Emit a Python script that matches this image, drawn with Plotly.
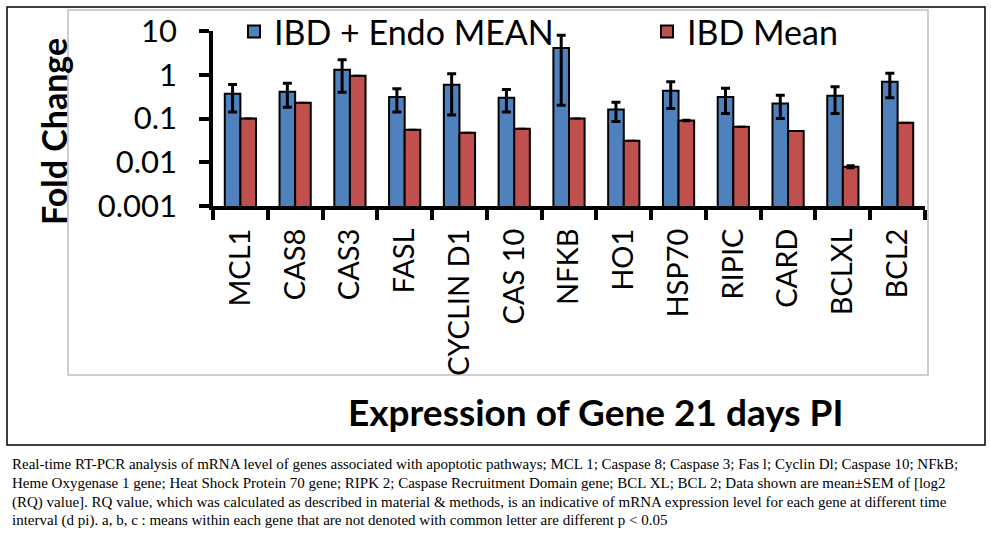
import plotly.graph_objects as go

# ---------------- data ----------------
genes = ["MCL1", "CAS8", "CAS3", "FASL", "CYCLIN D1", "CAS 10", "NFKB",
         "HO1", "HSP70", "RIPIC", "CARD", "BCLXL", "BCL2"]
endo_name = "IBD + Endo MEAN"
ibd_name = "IBD Mean"
endo_mean = [0.37, 0.41, 1.3, 0.31, 0.59, 0.30, 4.1, 0.16, 0.43, 0.31, 0.22, 0.33, 0.69]
endo_sem = [0.23, 0.23, 0.9, 0.17, 0.47, 0.16, 3.9, 0.075, 0.26, 0.18, 0.12, 0.2, 0.39]
ibd_mean = [0.10, 0.23, 0.95, 0.055, 0.047, 0.058, 0.10, 0.031, 0.09, 0.065, 0.052, 0.0079, 0.08]
ibd_sem = [None, None, None, None, None, None, None, None, 0.004, None, None, 0.0006, None]
y_tickvals = [0.001, 0.01, 0.1, 1, 10]
y_ticktext = ["0.001", "0.01", "0.1", "1", "10"]
y_title = "Fold Change"
x_title = "Expression of Gene 21 days PI"
caption_lines = [
    "Real-time RT-PCR analysis of mRNA level of genes associated with apoptotic pathways; MCL 1; Caspase 8; Caspase 3; Fas l; Cyclin Dl; Caspase 10; NFkB;",
    "Heme Oxygenase 1 gene; Heat Shock Protein 70 gene; RIPK 2; Caspase Recruitment Domain gene; BCL XL; BCL 2; Data shown are mean±SEM of [log2",
    "(RQ) value]. RQ value, which was calculated as described in material &amp; methods, is an indicative of mRNA expression level for each gene at different time",
    "interval (d pi). a, b, c : means within each gene that are not denoted with common letter are different p &lt; 0.05",
]

# ---------------- layout geometry (pixels) ----------------
W, H = 991, 542
PL, PR, PT, PB = 213, 925, 31, 206  # plot area in page pixels


def px(x):
    return (x - PL) / (PR - PL)


def py(y):
    return (PB - y) / (PB - PT)


FONT = "Lato"
BLUE = "#4F81BD"
RED = "#C0504D"

fig = go.Figure()
fig.add_trace(go.Bar(
    x=genes, y=endo_mean, name=endo_name, legend="legend",
    marker=dict(color=BLUE, line=dict(color="black", width=2)),
    error_y=dict(type="data", array=endo_sem, visible=True,
                 color="black", thickness=3, width=4.5),
))
fig.add_trace(go.Bar(
    x=genes, y=ibd_mean, name=ibd_name, legend="legend2",
    marker=dict(color=RED, line=dict(color="black", width=2)),
    error_y=dict(type="data", array=ibd_sem, visible=True,
                 color="black", thickness=2, width=4),
))

annotations = [
    dict(text="<b>%s</b>" % y_title, x=px(53), y=py(132), xref="paper", yref="paper",
         textangle=-90, showarrow=False, xanchor="center", yanchor="middle",
         font=dict(family=FONT, size=34, color="black")),
    dict(text="<b>%s</b>" % x_title, x=px(595), y=py(411), xref="paper", yref="paper",
         showarrow=False, xanchor="center", yanchor="middle",
         font=dict(family=FONT, size=37, color="black")),
]
cap_y = [464, 483, 502, 520]
for line, yy in zip(caption_lines, cap_y):
    annotations.append(dict(
        text=line, x=px(10), y=py(yy), xref="paper", yref="paper",
        showarrow=False, xanchor="left", yanchor="middle",
        font=dict(family="Liberation Serif", size=15, color="black")))

shapes = [
    dict(type="rect", xref="paper", yref="paper", x0=px(7), x1=px(985), y0=py(445), y1=py(7),
         line=dict(color="black", width=1.5), layer="below"),
    dict(type="rect", xref="paper", yref="paper", x0=px(68), x1=px(928), y0=py(375), y1=py(10),
         line=dict(color="#BFBFBF", width=1.5), layer="below"),
]

legend_common = dict(orientation="h", yanchor="middle", xanchor="left",
                     font=dict(family=FONT, size=34, color="black"),
                     bgcolor="rgba(0,0,0,0)", itemclick=False, itemdoubleclick=False)

fig.update_layout(
    width=W, height=H,
    margin=dict(l=PL, r=W - PR, t=PT, b=H - PB, pad=0, autoexpand=False),
    paper_bgcolor="white", plot_bgcolor="white",
    barmode="group", bargap=0.43, bargroupgap=0,
    font=dict(family=FONT, color="black"),
    showlegend=True,
    legend=dict(x=px(234), y=py(32), **legend_common),
    legend2=dict(x=px(647), y=py(32), **legend_common),
    xaxis=dict(showline=True, linecolor="black", linewidth=4, ticks="outside",
               tickson="boundaries", ticklen=10, tickwidth=3.5, tickcolor="black",
               tickangle=-90, ticklabelstandoff=7, automargin=False,
               tickfont=dict(family=FONT, size=29, color="black"),
               showgrid=False, zeroline=False),
    yaxis=dict(type="log", range=[-3, 1], showline=True, linecolor="black", linewidth=3.5,
               ticks="outside", ticklen=10, tickwidth=3.5, tickcolor="black",
               tickvals=y_tickvals, ticktext=y_ticktext, ticklabelstandoff=16,
               automargin=False,
               tickfont=dict(family=FONT, size=31, color="black"),
               showgrid=False, zeroline=False),
    annotations=annotations,
    shapes=shapes,
)

fig.write_html("out.html", config={"displayModeBar": False},
               post_script="document.body.style.margin='0px';document.body.style.overflow='hidden';")
